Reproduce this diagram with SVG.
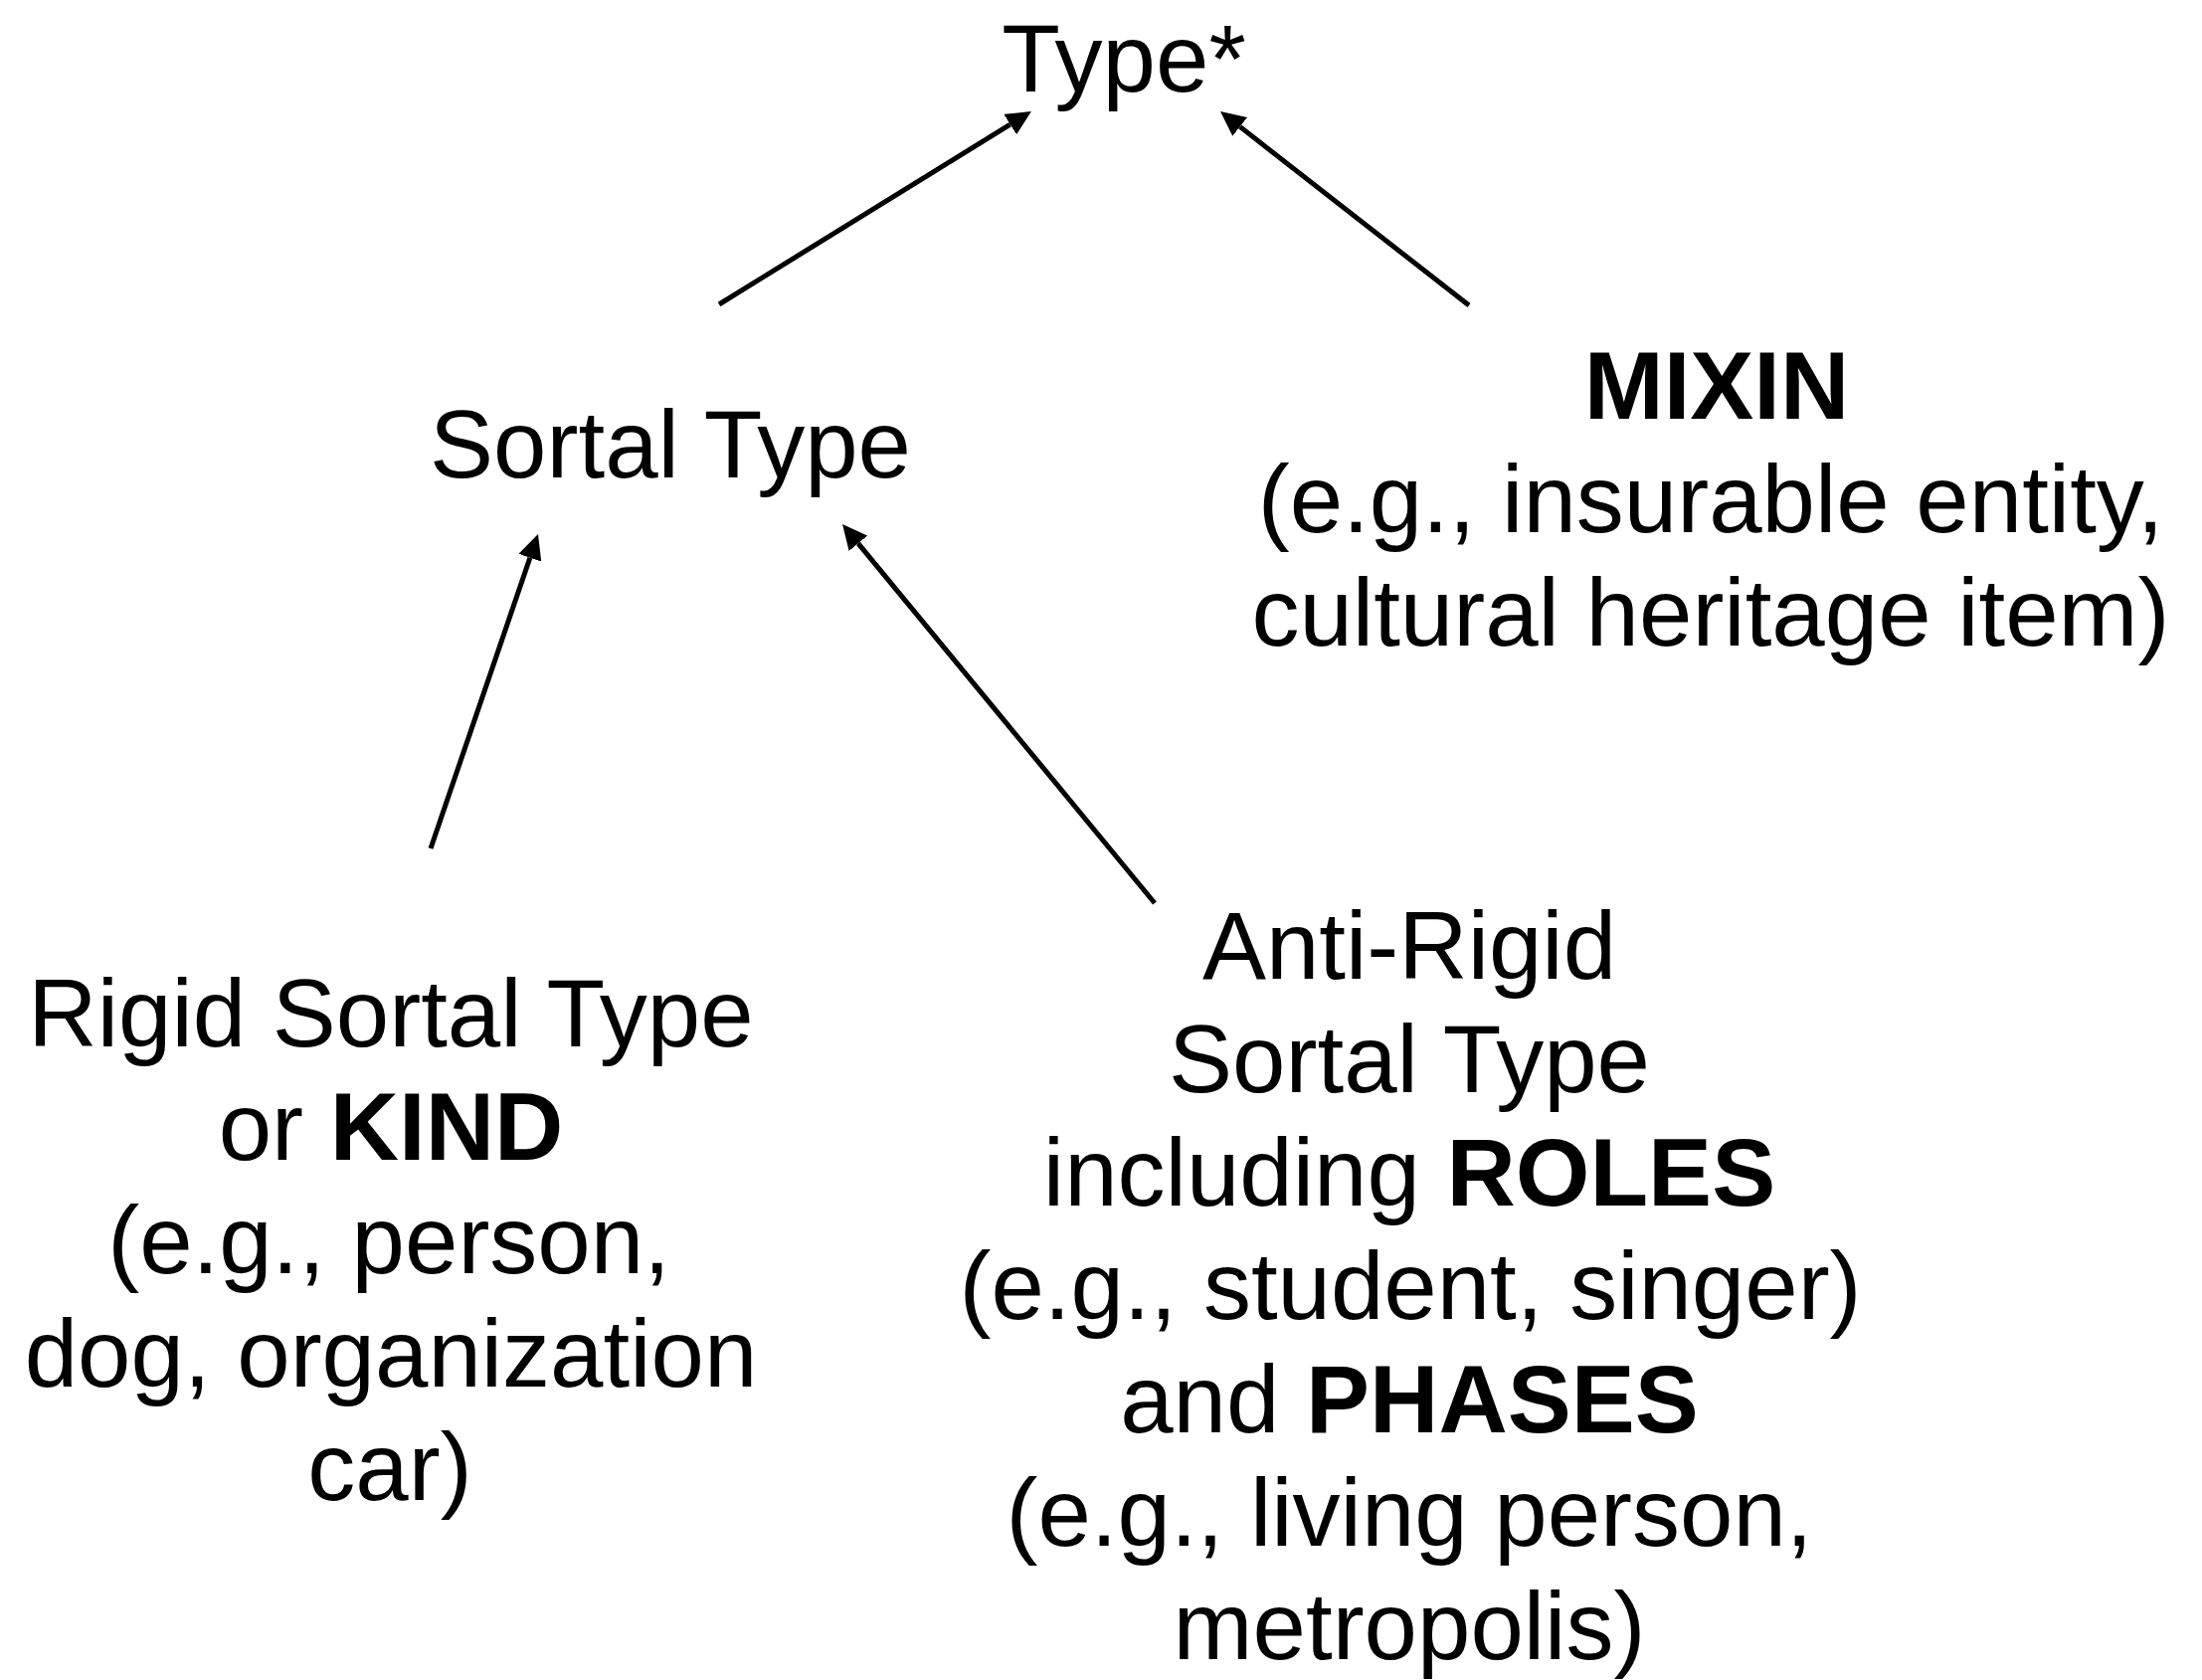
<svg xmlns="http://www.w3.org/2000/svg" width="2214" height="1689" viewBox="0 0 2214 1689">
  <style>
    .lbl { font-family: "Liberation Sans", Arial, Helvetica, sans-serif; font-size: 96px; fill: #000; text-anchor: middle; }
    .b { font-weight: bold; }
    .edge { stroke: #000; stroke-width: 5; fill: none; marker-end: url(#head); }
  </style>
  <defs>
    <marker id="head" viewBox="0 0 25 24" markerWidth="25" markerHeight="24" markerUnits="userSpaceOnUse" refX="0" refY="12" orient="auto">
      <path d="M0,0 L25,12 L0,24 z" fill="#000"/>
    </marker>
  </defs>
  <rect width="2214" height="1689" fill="#fff"/>

  <g id="connectors">
    <line class="edge" x1="723" y1="306" x2="1015.7" y2="125.1"/>
    <line class="edge" x1="1477" y1="307" x2="1246.7" y2="127.4"/>
    <line class="edge" x1="433" y1="853" x2="532.9" y2="560.7"/>
    <line class="edge" x1="1161" y1="908" x2="862.9" y2="546.3"/>
  </g>

  <g id="type">
    <text class="lbl" x="1130" y="92">Type*</text>
  </g>

  <g id="sortal-type">
    <text class="lbl" x="674" y="480">Sortal Type</text>
  </g>

  <g id="mixin">
    <text class="lbl b" x="1726" y="421">MIXIN</text>
    <text class="lbl" x="1720" y="535">(e.g., insurable entity,</text>
    <text class="lbl" x="1720" y="649">cultural heritage item)</text>
  </g>

  <g id="rigid-sortal">
    <text class="lbl" x="393" y="1052">Rigid Sortal Type</text>
    <text class="lbl" x="393" y="1166">or <tspan class="b">KIND</tspan></text>
    <text class="lbl" x="391" y="1280">(e.g., person,</text>
    <text class="lbl" x="393" y="1394">dog, organization</text>
    <text class="lbl" x="392" y="1508">car)</text>
  </g>

  <g id="anti-rigid-sortal">
    <text class="lbl" x="1417" y="984">Anti-Rigid</text>
    <text class="lbl" x="1417" y="1098">Sortal Type</text>
    <text class="lbl" x="1417" y="1212">including <tspan class="b">ROLES</tspan></text>
    <text class="lbl" x="1418" y="1326">(e.g., student, singer)</text>
    <text class="lbl" x="1417" y="1440">and <tspan class="b">PHASES</tspan></text>
    <text class="lbl" x="1417" y="1554">(e.g., living person,</text>
    <text class="lbl" x="1417" y="1668">metropolis)</text>
  </g>
</svg>
